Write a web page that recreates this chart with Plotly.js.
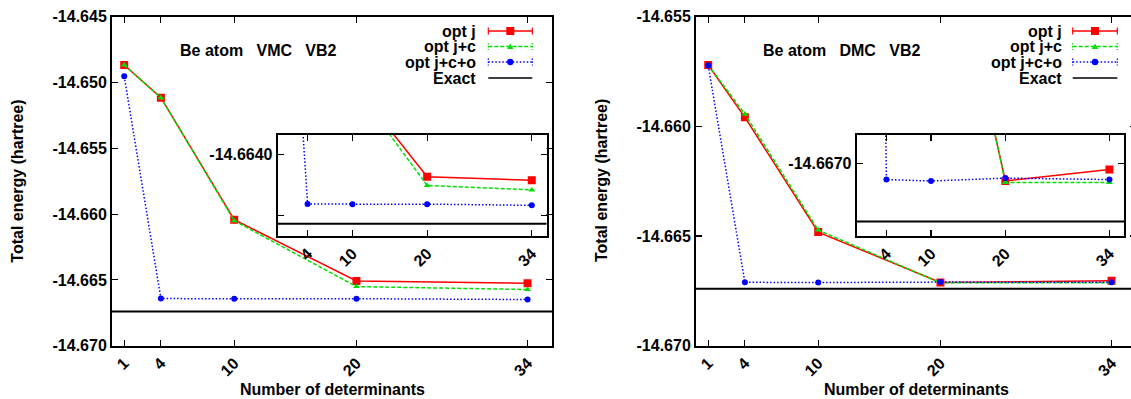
<!DOCTYPE html>
<html>
<head>
<meta charset="utf-8">
<script src="https://cdn.plot.ly/plotly-3.0.1.min.js"></script>
<style>
html,body{margin:0;padding:0;overflow:hidden;background:#fff;}
#chart{width:1140px;height:399px;}
</style>
</head>
<body>
<div id="chart"></div>
<script>
// ---------------- data ----------------
const ndet = [1, 4, 10, 20, 34];
const vmcOptJ   = [-14.64867, -14.65115, -14.66043, -14.66508, -14.66525];
const vmcOptJC  = [-14.64867, -14.65115, -14.66050, -14.66551, -14.66573];
const vmcOptJCO = [-14.64953, -14.66642, -14.66643, -14.66643, -14.66649];
const dmcOptJ   = [-14.65720, -14.65959, -14.66482, -14.66712, -14.66704];
const dmcOptJC  = [-14.65720, -14.65944, -14.66473, -14.66713, -14.66713];
const dmcOptJCO = [-14.65723, -14.66711, -14.66712, -14.66710, -14.66711];
const exactEnergy = -14.6674;

const seriesNames = ['opt j', 'opt j+c', 'opt j+c+o', 'Exact'];
const mainXTicks = [1, 4, 10, 20, 34];
const insetXTicks = [4, 10, 20, 34];
const vmcYTicks = [-14.645, -14.650, -14.655, -14.660, -14.665, -14.670];
const vmcYTickText = ['-14.645', '-14.650', '-14.655', '-14.660', '-14.665', '-14.670'];
const dmcYTicks = [-14.655, -14.660, -14.665, -14.670];
const dmcYTickText = ['-14.655', '-14.660', '-14.665', '-14.670'];
const vmcInsetYTicks = [-14.664, -14.667];
const vmcInsetYTickText = ['-14.6640', ''];
const dmcInsetYTicks = [-14.667];
const dmcInsetYTickText = ['-14.6670'];

// ---------------- layout helpers ----------------
const W = 1140, H = 399;
const px = x => x / W;
const py = y => 1 - y / H;
const FONT = 'Liberation Sans, Arial, Helvetica, sans-serif';
const FS = 16;
const RED = '#ff0000', GREEN = '#00e000', BLUE = '#0000ff';
const XR = [0, 36];
const vmcYR = [-14.670, -14.645];
const dmcYR = [-14.670, -14.655];
const vmcInsetYR = [-14.668, -14.663];
const dmcInsetYR = [-14.6675, -14.6668];

const styles = [
  {color: RED, dash: 'solid', width: 1.5, symbol: 'square', size: 8},
  {color: GREEN, dash: '4px,2px', width: 1.5, symbol: 'triangle-up', size: 6},
  {color: BLUE, dash: '1.5px,2px', width: 1.5, symbol: 'circle', size: 6}
];

function mk(y, s, xa, ya) {
  return {
    x: ndet, y: y, xaxis: xa, yaxis: ya, type: 'scatter', mode: 'lines+markers',
    line: {color: s.color, dash: s.dash, width: s.width},
    marker: {color: s.color, symbol: s.symbol, size: s.size},
    showlegend: false, hoverinfo: 'skip', cliponaxis: true
  };
}

const vmcSets = [vmcOptJ, vmcOptJC, vmcOptJCO];
const dmcSets = [dmcOptJ, dmcOptJC, dmcOptJCO];
const data = [];
vmcSets.forEach((d, i) => data.push(mk(d, styles[i], 'x', 'y')));
dmcSets.forEach((d, i) => data.push(mk(d, styles[i], 'x2', 'y2')));
vmcSets.forEach((d, i) => data.push(mk(d, styles[i], 'x3', 'y3')));
dmcSets.forEach((d, i) => data.push(mk(d, styles[i], 'x4', 'y4')));

const tickFont = {family: FONT, size: FS, color: '#000', weight: 'bold'};
function axis(extra) {
  return Object.assign({
    showline: true, linewidth: 2, linecolor: '#000', mirror: 'allticks',
    ticks: 'inside', ticklen: 6, tickwidth: 1.2, tickcolor: '#000',
    showgrid: false, zeroline: false, tickfont: tickFont, fixedrange: true
  }, extra);
}

const pyTop = 16.7, pyBot = 345.7;
const layout = {
  width: W, height: H,
  margin: {l: 0, r: 0, t: 0, b: 0},
  paper_bgcolor: '#fff', plot_bgcolor: 'rgba(0,0,0,0)',
  font: {family: FONT, size: FS, color: '#000', weight: 'bold'},
  showlegend: false,
  xaxis: axis({domain: [px(112), px(552)], range: XR, anchor: 'y', tickvals: mainXTicks, ticktext: mainXTicks.map(String), tickangle: -45}),
  yaxis: axis({domain: [py(pyBot), py(pyTop)], range: vmcYR, anchor: 'x', tickvals: vmcYTicks, ticktext: vmcYTickText}),
  xaxis2: axis({domain: [px(696), px(1136)], range: XR, anchor: 'y2', tickvals: mainXTicks, ticktext: mainXTicks.map(String), tickangle: -45}),
  yaxis2: axis({domain: [py(pyBot), py(pyTop)], range: dmcYR, anchor: 'x2', tickvals: dmcYTicks, ticktext: dmcYTickText}),
  xaxis3: axis({domain: [px(277.7), px(546.7)], range: XR, anchor: 'y3', tickvals: insetXTicks, ticktext: insetXTicks.map(String), tickangle: -45}),
  yaxis3: axis({domain: [py(236), py(134.5)], range: vmcInsetYR, anchor: 'x3', tickvals: vmcInsetYTicks, ticktext: vmcInsetYTickText}),
  xaxis4: axis({domain: [px(856.7), px(1124.3)], range: XR, anchor: 'y4', tickvals: insetXTicks, ticktext: insetXTicks.map(String), tickangle: -45}),
  yaxis4: axis({domain: [py(236), py(134.7)], range: dmcInsetYR, anchor: 'x4', tickvals: dmcInsetYTicks, ticktext: dmcInsetYTickText}),
  shapes: [],
  annotations: []
};

// inset white backgrounds (drawn in the inset subplot's own lower layer)
[['x3', 'y3', vmcInsetYR], ['x4', 'y4', dmcInsetYR]].forEach(([xa, ya, yr]) => {
  layout.shapes.push({type: 'rect', xref: xa, yref: ya, x0: XR[0], x1: XR[1], y0: yr[0], y1: yr[1],
    fillcolor: '#fff', line: {width: 0}, layer: 'below'});
});
// exact energy lines
[['x', 'y'], ['x2', 'y2'], ['x3', 'y3'], ['x4', 'y4']].forEach(([xa, ya]) => {
  layout.shapes.push({type: 'line', xref: xa, yref: ya, x0: XR[0], x1: XR[1], y0: exactEnergy, y1: exactEnergy,
    line: {color: '#000', width: 2}, layer: 'above'});
});

// text annotations
function ann(text, x, y, opts) {
  layout.annotations.push(Object.assign({text: text, x: px(x), y: py(y), xref: 'paper', yref: 'paper',
    showarrow: false, font: {family: FONT, size: FS, color: '#000', weight: 'bold'}}, opts || {}));
}
const sp = '\u00a0\u00a0\u00a0';
ann('Be atom' + sp + 'VMC' + sp + 'VB2', 178, 50, {xanchor: 'left', yanchor: 'middle'});
ann('Be atom' + sp + 'DMC' + sp + 'VB2', 761, 50, {xanchor: 'left', yanchor: 'middle'});
ann('Total energy (hartree)', 17.7, 181, {xanchor: 'center', yanchor: 'middle', textangle: -90});
ann('Total energy (hartree)', 602, 181, {xanchor: 'center', yanchor: 'middle', textangle: -90});
ann('Number of determinants', 332, 389, {xanchor: 'center', yanchor: 'middle'});
ann('Number of determinants', 916, 389, {xanchor: 'center', yanchor: 'middle'});

// manual legends (text left, sample right, gnuplot style)
const rowsY = [31, 46.5, 62, 78];
function legend(textRight, lx0, lx1) {
  const mx = (lx0 + lx1) / 2;
  seriesNames.forEach((name, i) => {
    const y = rowsY[i];
    ann(name, textRight, y, {xanchor: 'right', yanchor: 'middle'});
    const s = styles[i] || {color: '#000', dash: 'solid', width: 1.5};
    layout.shapes.push({type: 'line', xref: 'paper', yref: 'paper', x0: px(lx0), x1: px(lx1), y0: py(y), y1: py(y),
      line: {color: s.color, width: s.width, dash: s.dash}});
    if (i < 3) {
      [lx0, lx1].forEach(cx => layout.shapes.push({type: 'line', xref: 'paper', yref: 'paper',
        x0: px(cx), x1: px(cx), y0: py(y - 3.5), y1: py(y + 3.5), line: {color: s.color, width: 1.2, dash: s.dash === 'solid' ? 'solid' : '1.5px,1.5px'}}));
      if (i === 0) {
        layout.shapes.push({type: 'rect', xref: 'paper', yref: 'paper', x0: px(mx - 4), x1: px(mx + 4), y0: py(y + 4), y1: py(y - 4),
          fillcolor: s.color, line: {width: 0}});
      } else if (i === 1) {
        const path = 'M' + px(mx - 3.2) + ',' + py(y + 2.6) + ' L' + px(mx + 3.2) + ',' + py(y + 2.6) + ' L' + px(mx) + ',' + py(y - 3) + ' Z';
        layout.shapes.push({type: 'path', xref: 'paper', yref: 'paper', path: path, fillcolor: s.color, line: {width: 0}});
      } else {
        layout.shapes.push({type: 'circle', xref: 'paper', yref: 'paper', x0: px(mx - 3.2), x1: px(mx + 3.2), y0: py(y + 3.2), y1: py(y - 3.2),
          fillcolor: s.color, line: {width: 0}});
      }
    }
  });
}
legend(478, 488.3, 532.3);
legend(1063.5, 1072.7, 1117.3);

Plotly.newPlot('chart', data, layout, {staticPlot: true, displayModeBar: false});
</script>
</body>
</html>
